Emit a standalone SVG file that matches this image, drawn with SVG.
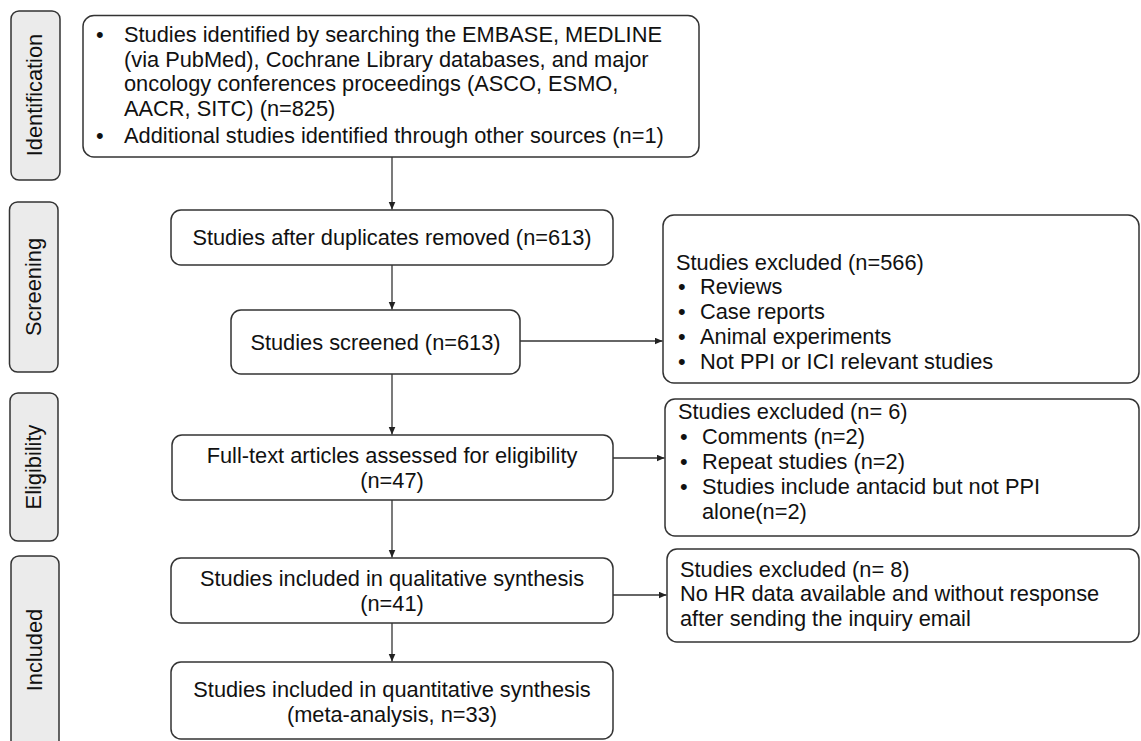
<svg xmlns="http://www.w3.org/2000/svg" width="1141" height="741" viewBox="0 0 1141 741">
<style>
.box{fill:#fff;stroke:#333;stroke-width:1.5}
.side{fill:#ebebeb;stroke:#333;stroke-width:1.5}
text{font-family:"Liberation Sans",Arial,sans-serif;font-size:21.8px;fill:#111}
.c{text-anchor:middle}
.conn{stroke:#333;stroke-width:1.3;fill:none;marker-end:url(#ah)}
</style>
<defs>
<marker id="ah" markerUnits="userSpaceOnUse" markerWidth="9" markerHeight="8" refX="8" refY="3.5" orient="auto">
<path d="M0,0 L8,3.5 L0,7 z" fill="#222"/>
</marker>
</defs>
<rect width="1141" height="741" fill="#fff"/>
<g id="side-identification"><rect class="side" x="11" y="11" width="49" height="169" rx="8"/><text class="c" transform="translate(42,95) rotate(-90)">Identification</text></g>
<g id="side-screening"><rect class="side" x="9.5" y="202" width="48.5" height="170" rx="8"/><text class="c" transform="translate(41,287) rotate(-90)">Screening</text></g>
<g id="side-eligibility"><rect class="side" x="10" y="393" width="48" height="148" rx="8"/><text class="c" transform="translate(41,467) rotate(-90)">Eligibility</text></g>
<g id="side-included"><rect class="side" x="11" y="556" width="48" height="200" rx="8"/><text class="c" transform="translate(42,650) rotate(-90)">Included</text></g>

<g id="identified"><rect class="box" x="83" y="15.5" width="616" height="141.5" rx="11"/>
<text x="96" y="42">•</text>
<text x="124" y="42">Studies identified by searching the EMBASE, MEDLINE</text>
<text x="124" y="66.5">(via PubMed), Cochrane Library databases, and major</text>
<text x="124" y="91">oncology conferences proceedings (ASCO, ESMO,</text>
<text x="124" y="115.5">AACR, SITC) (n=825)</text>
<text x="96" y="143">•</text>
<text x="124" y="143">Additional studies identified through other sources (n=1)</text></g>

<g id="duplicates"><rect class="box" x="171" y="210" width="442" height="55" rx="10"/><text class="c" x="392" y="245">Studies after duplicates removed (n=613)</text></g>
<g id="screened"><rect class="box" x="231" y="310" width="289" height="64" rx="10"/><text class="c" x="375.5" y="350">Studies screened (n=613)</text></g>
<g id="fulltext"><rect class="box" x="172" y="435" width="441" height="65" rx="10"/><text class="c" x="392" y="463">Full-text articles assessed for eligibility</text><text class="c" x="392" y="488">(n=47)</text></g>
<g id="qualitative"><rect class="box" x="171" y="558" width="442" height="65" rx="10"/><text class="c" x="392" y="586">Studies included in qualitative synthesis</text><text class="c" x="392" y="611">(n=41)</text></g>
<g id="quantitative"><rect class="box" x="171" y="662" width="442" height="77" rx="10"/><text class="c" x="392" y="697">Studies included in quantitative synthesis</text><text class="c" x="392" y="722">(meta-analysis, n=33)</text></g>

<g id="excluded566"><rect class="box" x="663" y="215" width="476" height="168" rx="11"/>
<text x="676" y="270">Studies excluded (n=566)</text>
<text x="678" y="294">•</text><text x="700" y="294">Reviews</text>
<text x="678" y="319">•</text><text x="700" y="319">Case reports</text>
<text x="678" y="344">•</text><text x="700" y="344">Animal experiments</text>
<text x="678" y="369">•</text><text x="700" y="369">Not PPI or ICI relevant studies</text></g>

<g id="excluded6"><rect class="box" x="665" y="399" width="474" height="137" rx="10"/>
<text x="678" y="419">Studies excluded (n= 6)</text>
<text x="680" y="444">•</text><text x="702" y="444">Comments (n=2)</text>
<text x="680" y="469">•</text><text x="702" y="469">Repeat studies (n=2)</text>
<text x="680" y="494">•</text><text x="702" y="494">Studies include antacid but not PPI</text>
<text x="702" y="519">alone(n=2)</text></g>

<g id="excluded8"><rect class="box" x="667" y="549" width="472" height="93" rx="10"/>
<text x="680" y="577">Studies excluded (n= 8)</text>
<text x="680" y="601">No HR data available and without response</text>
<text x="680" y="626">after sending the inquiry email</text></g>

<g id="connectors">
<line class="conn" x1="392" y1="157" x2="392" y2="209.5"/>
<line class="conn" x1="392" y1="265" x2="392" y2="309.5"/>
<line class="conn" x1="392" y1="374" x2="392" y2="434.5"/>
<line class="conn" x1="392" y1="500" x2="392" y2="557.5"/>
<line class="conn" x1="392" y1="623" x2="392" y2="661.5"/>
<line class="conn" x1="520" y1="341" x2="662.5" y2="341"/>
<line class="conn" x1="613" y1="458" x2="664.5" y2="458"/>
<line class="conn" x1="613" y1="595" x2="666.5" y2="595"/>
</g>
</svg>
